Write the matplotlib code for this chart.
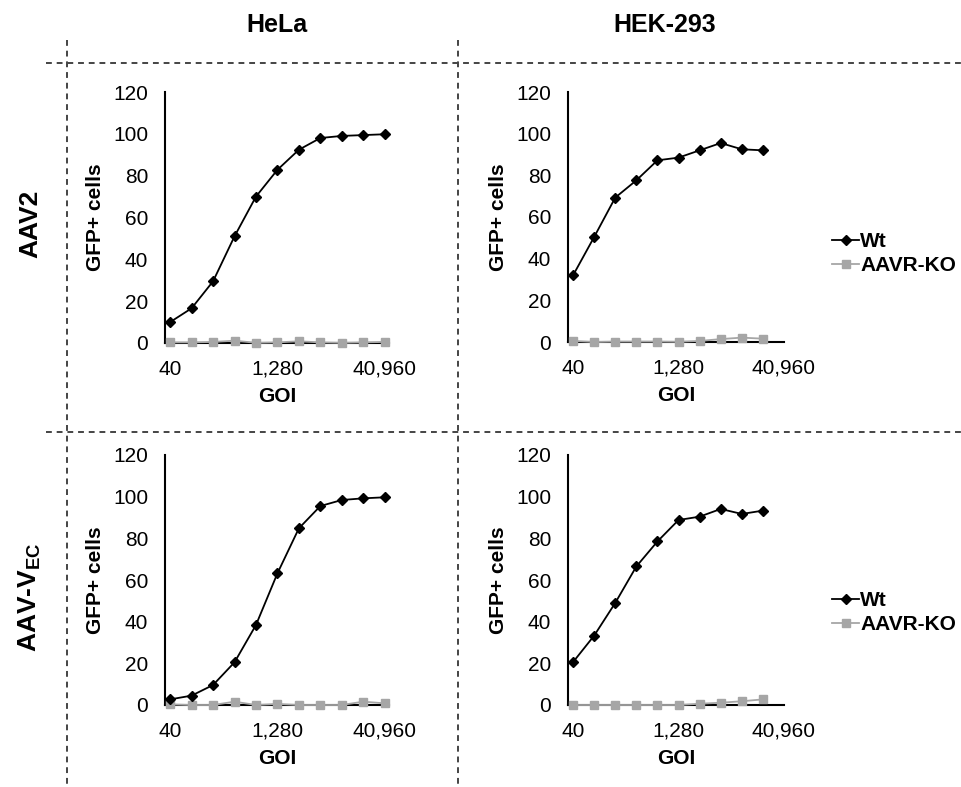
import matplotlib
matplotlib.use("Agg")
import matplotlib.pyplot as plt
from matplotlib.lines import Line2D

plt.rcParams['font.family'] = ['Liberation Sans', 'DejaVu Sans']
plt.rcParams['mathtext.fontset'] = 'custom'
plt.rcParams['mathtext.rm'] = 'Liberation Sans'
plt.rcParams['mathtext.bf'] = 'Liberation Sans:bold'

# ---- data ----
goi = [40, 80, 160, 320, 640, 1280, 2560, 5120, 10240, 20480, 40960]
tick_goi = [40, 1280, 40960]
tick_labels = ["40", "1,280", "40,960"]

hela_aav2_wt = [10.0, 16.6, 29.5, 51.0, 70.0, 82.8, 92.4, 98.0, 99.0, 99.4, 99.8]
hela_aav2_ko = [0.3, 0.3, 0.5, 1.1, 0.1, 0.3, 0.8, 0.3, 0.1, 0.3, 0.5]
hek_aav2_wt = [32.0, 50.4, 69.3, 77.6, 87.2, 88.5, 92.0, 95.5, 92.5, 92.0]
hek_aav2_ko = [0.5, 0.0, 0.2, 0.2, 0.2, 0.1, 0.5, 1.4, 2.1, 1.6]
hela_vec_wt = [2.7, 4.5, 9.6, 20.5, 38.4, 63.2, 84.8, 95.5, 98.4, 99.2, 99.7]
hela_vec_ko = [0.3, 0.0, 0.0, 1.6, 0.0, 0.5, 0.0, 0.0, 0.0, 1.6, 0.8]
hek_vec_wt = [20.6, 33.3, 49.0, 66.5, 78.5, 88.8, 90.4, 94.1, 91.7, 93.3]
hek_vec_ko = [0.0, 0.0, 0.0, 0.0, 0.0, 0.0, 0.6, 1.1, 1.8, 2.7]

col_titles = ["HeLa", "HEK-293"]
row_titles = ["AAV2", r"AAV-V$_{\mathbf{EC}}$"]
series_names = ["Wt", "AAVR-KO"]

W, H = 962, 787
fig = plt.figure(figsize=(W / 100, H / 100), dpi=100)

def rect(l, r, t, b):
    return [l / W, 1 - b / H, (r - l) / W, (b - t) / H]

panels = [
    (rect(165, 389, 92, 343), hela_aav2_wt, hela_aav2_ko, (-0.24, 10.2)),
    (rect(568, 784, 92, 342), hek_aav2_wt, hek_aav2_ko, (-0.24, 10.0)),
    (rect(165, 389, 455, 705), hela_vec_wt, hela_vec_ko, (-0.24, 10.2)),
    (rect(568, 784, 455, 705), hek_vec_wt, hek_vec_ko, (-0.24, 10.0)),
]

wt_color = "black"
ko_color = "#a6a6a6"
tick_pos = [goi.index(g) for g in tick_goi]

for i, (r, wt, ko, xl) in enumerate(panels):
    ax = fig.add_axes(r)
    ax.plot(range(len(ko)), ko, color=ko_color, marker="s", ms=6, lw=1.3,
            clip_on=False, zorder=3)
    ax.plot(range(len(wt)), wt, color=wt_color, marker="D", ms=5.5, lw=1.3,
            clip_on=False, zorder=4)
    ax.set_ylim(0, 120)
    ax.set_yticks(range(0, 121, 20))
    ax.set_xlim(*xl)
    ax.set_xticks(tick_pos)
    ax.set_xticklabels(tick_labels)
    ax.tick_params(axis="y", length=0, labelsize=15, pad=12)
    ax.tick_params(axis="x", length=0, labelsize=15, pad=12)
    for s in ["top", "right"]:
        ax.spines[s].set_visible(False)
    for s in ["left", "bottom"]:
        ax.spines[s].set_linewidth(1.5)
        ax.spines[s].set_color("black")
    ax.set_ylabel("GFP+ cells", fontsize=15, fontweight="bold", labelpad=6)
    ax.set_xlabel("GOI", fontsize=15, fontweight="bold", labelpad=6)

# legends
for ly in [244, 603]:
    handles = [
        Line2D([], [], color=wt_color, marker="D", ms=5, lw=1.3),
        Line2D([], [], color=ko_color, marker="s", ms=6, lw=1.3),
    ]
    fig.legend(handles, series_names, loc="upper left",
               bbox_to_anchor=(832 / W, 1 - (ly - 12) / H), frameon=False,
               prop={"size": 15, "weight": "bold"}, handlelength=1.3,
               handletextpad=0.05, labelspacing=0.25, borderaxespad=0,
               borderpad=0)

# column & row titles
fig.text(277 / W, 1 - 25 / H, col_titles[0], fontsize=18, fontweight="bold",
         ha="center", va="center")
fig.text(665 / W, 1 - 25 / H, col_titles[1], fontsize=18, fontweight="bold",
         ha="center", va="center")
fig.text(30 / W, 1 - 224 / H, row_titles[0], fontsize=19, fontweight="bold",
         ha="center", va="center", rotation=90)
fig.text(30 / W, 1 - 597 / H, row_titles[1], fontsize=19, fontweight="bold",
         ha="center", va="center", rotation=90)

# dashed separators
dash = dict(color="#444444", lw=1.4, ls=(0, (3, 2.5)))
for y in [63, 432]:
    fig.add_artist(Line2D([46 / W, 1], [1 - y / H, 1 - y / H], **dash))
for x in [67, 458]:
    fig.add_artist(Line2D([x / W, x / W], [1 - 40 / H, 0], **dash))

fig.savefig("out.png", dpi=100)
